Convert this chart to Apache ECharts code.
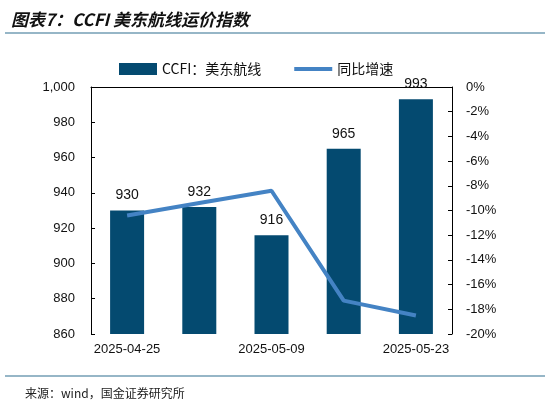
<!DOCTYPE html>
<html><head><meta charset="utf-8">
<script src="https://cdn.jsdelivr.net/npm/echarts@6/dist/echarts.min.js"></script>
<style>html,body{margin:0;padding:0;background:#fff}#c{width:550px;height:404px}</style>
</head><body><div id="c"></div>
<script>
const categories = ['2025-04-25','2025-05-02','2025-05-09','2025-05-16','2025-05-23'];
const ccfiValues = [930, 932, 916, 965, 993];
const yoyValues = [-10.4, -9.4, -8.4, -17.3, -18.5];
const leftTicks = {min: 860, max: 1000, interval: 20};
const rightTicks = {min: -20, max: 0, interval: 2};

const chart = echarts.init(document.getElementById('c'));
const font = '"Liberation Sans", Arial, sans-serif';
chart.setOption({
  animation: false,
  textStyle: {fontFamily: font},
  title: [{
    text: '图表7：CCFI 美东航线运价指数',
    left: 6, top: 6,
    textStyle: {fontSize: 17, fontWeight: 'bold', fontStyle: 'italic', color: '#111', fontFamily: '"Noto Sans CJK SC", sans-serif'}
  }, {
    text: '来源：wind，国金证券研究所',
    left: 20, top: 382,
    textStyle: {fontSize: 12, fontWeight: 'normal', color: '#222', fontFamily: '"Noto Sans CJK SC", sans-serif'}
  }],
  graphic: [
    {type: 'line', shape: {x1: 5, y1: 33, x2: 545, y2: 33}, style: {stroke: '#2f6e8f', lineWidth: 1.2}},
    {type: 'line', shape: {x1: 5, y1: 376, x2: 545, y2: 376}, style: {stroke: '#2f6e8f', lineWidth: 1.2}}
  ],
  legend: {
    top: 57, left: 114,
    itemGap: 33, itemWidth: 38, itemHeight: 12,
    textStyle: {fontSize: 14, color: '#111', fontFamily: '"Noto Sans CJK SC", sans-serif'},
    data: [
      {name: 'CCFI：美东航线', icon: 'rect'},
      {name: '同比增速', icon: 'path://M0 0H40V4H0Z'}
    ]
  },
  grid: {left: 91, right: 98, top: 87, bottom: 70},
  xAxis: {
    type: 'category', data: categories,
    axisLine: {lineStyle: {color: '#000', width: 1}},
    axisTick: {inside: true, length: 5, lineStyle: {color: '#000'}},
    axisLabel: {interval: 1, color: '#111', fontSize: 13, margin: 9, fontFamily: font}
  },
  yAxis: [{
    type: 'value', min: leftTicks.min, max: leftTicks.max, interval: leftTicks.interval,
    splitLine: {show: false},
    axisLine: {show: true, lineStyle: {color: '#000'}},
    axisTick: {show: true, inside: true, length: 4, lineStyle: {color: '#000'}},
    axisLabel: {color: '#111', fontSize: 13, margin: 16, fontFamily: font,
      formatter: v => v >= 1000 ? (v/1000).toFixed(0) + ',' + String(v % 1000).padStart(3,'0') : String(v)}
  }, {
    type: 'value', min: rightTicks.min, max: rightTicks.max, interval: rightTicks.interval,
    splitLine: {show: false},
    axisLine: {show: true, lineStyle: {color: '#000'}},
    axisTick: {show: true, inside: true, length: 4, lineStyle: {color: '#000'}},
    axisLabel: {color: '#111', fontSize: 13, margin: 14, fontFamily: font, formatter: v => v + '%'}
  }],
  series: [{
    name: 'CCFI：美东航线', type: 'bar', data: ccfiValues, yAxisIndex: 0,
    barWidth: 34,
    itemStyle: {color: '#044a70'},
    label: {show: true, position: 'top', distance: 8, color: '#111', fontSize: 14, fontFamily: font}
  }, {
    name: '同比增速', type: 'line', data: yoyValues, yAxisIndex: 1,
    symbol: 'none',
    lineStyle: {color: '#4483c4', width: 4},
    itemStyle: {color: '#4483c4'}
  }]
});
</script></body></html>
